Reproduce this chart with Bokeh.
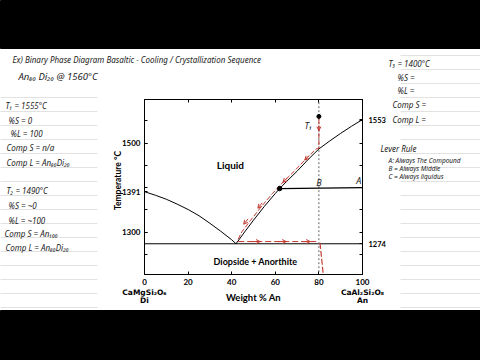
import math
from bokeh.plotting import figure
from bokeh.models import Range1d, LinearAxis, FixedTicker, Label, Arrow, OpenHead
from bokeh.core.properties import value
from bokeh.embed import file_html
from bokeh.resources import INLINE

# ---------------- data ----------------
left_liq_x = [0, 5, 10, 15, 20, 25, 30, 35, 40, 42]
left_liq_T = [1391, 1383, 1374, 1363, 1351, 1337, 1320, 1302, 1283, 1274]
right_liq_x = [42, 46, 50, 55, 60, 62, 65, 70, 75, 80, 85, 90, 95, 100]
right_liq_T = [1274, 1301, 1327, 1358, 1387, 1398, 1413, 1437, 1463, 1487, 1505, 1522, 1538, 1553]
eutectic_x = [0, 100]
eutectic_T = [1274, 1274]

x_ticks = [0, 20, 40, 60, 80, 100]
left_T_ticks = [1300, 1391, 1500]
right_T_ticks = [1274, 1553]
minor_T_ticks = [1250, 1300, 1350, 1400, 1450, 1500, 1550]

region_names = ["Liquid", "Diopside + Anorthite"]
region_x = [39.4, 50.9]
region_T = [1450, 1235]
region_size = ["10px", "9px"]

end_members = ["CaMgSi\u2082O\u2086", "Di", "CaAl\u2082Si\u2082O\u2088", "An"]
end_member_x = [0, 0, 100, 100]

x_title = "Weight % An"
y_title = "Temperature \u00b0C"

# hand-drawn cooling path
isopleth_x = [80, 80]
isopleth_T = [1610, 1205]
start_x = [80]
start_T = [1560]
tie_x = [62, 100]
tie_T = [1398, 1400]
red_liq_x = [80, 80, 78.7, 73.7, 68.7, 63.7, 58.7, 53.7, 48.7, 44.7, 42.5]
red_liq_T = [1554, 1488, 1487, 1463, 1437, 1413, 1387, 1358, 1327, 1301, 1280]
red_eut_x = [43, 79]
red_eut_T = [1279, 1279]
red_down_x = [80.5, 82]
red_down_T = [1276, 1205]
arrow_x0 = [80, 75.5, 65.5, 54.0, 47.5, 49, 61, 72]
arrow_T0 = [1540, 1472, 1422, 1366, 1330, 1279, 1279, 1279]
arrow_x1 = [80, 73.5, 63.5, 52.0, 45.5, 53, 65, 76]
arrow_T1 = [1528, 1462, 1412, 1354, 1318, 1279, 1279, 1279]
mark_text = ["T\u2081", "A", "B"]
mark_x = [75.2, 98.3, 80]
mark_T = [1540, 1416, 1412]

# handwritten notes
title_notes = ["Ex) Binary Phase Diagram Basaltic  -  Cooling / Crystallization Sequence",
               "An\u2088\u2080 Di\u2082\u2080 @ 1560\u00b0C"]
left_notes = ["T\u2081 = 1555\u00b0C", "%S = 0", "%L = 100", "Comp S = n/a",
              "Comp L = An\u2088\u2080Di\u2082\u2080",
              "T\u2082 = 1490\u00b0C", "%S = ~0", "%L = ~100", "Comp S = An\u2081\u2080\u2080",
              "Comp L = An\u2088\u2080Di\u2082\u2080"]
right_notes = ["T\u2083 = 1400\u00b0C", "%S =", "%L =", "Comp S =", "Comp L =", "Lever Rule"]
rule_notes = ["A: Always The Compound", "B = Always Middle", "C = Always liquidus"]

# ---------------- layout (page pixel positions) ----------------
title_x, title_y = [12], [59]
sub_x, sub_y = [18], [76]
left_x = [5, 8, 10, 6, 6, 6, 8, 8, 4, 5]
left_y = [105, 120, 133, 147, 162, 190, 205, 220, 233, 247]
right_x = [388, 397, 397, 392, 392, 380]
right_y = [63, 77, 90, 104, 119, 148]
rule_x = [388, 388, 388]
rule_y = [160, 168, 176]

RED = "#c43a31"
INK = "#222222"
HAND = "Noto Sans"
CHART = "Lato"

p = figure(width=480, height=360, output_backend="svg", toolbar_location=None,
           x_range=Range1d(0, 100), y_range=Range1d(1205, 1598),
           x_axis_location=None, y_axis_location=None,
           min_border_left=144, min_border_right=118, min_border_top=99, min_border_bottom=86)
p.grid.visible = False
p.outline_line_color = "black"
p.outline_line_width = 1
p.background_fill_color = "white"
p.border_fill_color = "white"

# pixel-space ranges for the notebook page around the chart
p.extra_x_ranges = {"px": Range1d(144, 362)}
p.extra_y_ranges = {"py": Range1d(274, 99)}

# notebook ruled lines and black letterbox
rule_ys_left = list(range(97, 310, 14))
rule_ys_right = list(range(55, 310, 14))
xs = [[0, 97]] * len(rule_ys_left) + [[400, 480]] * len(rule_ys_right)
ys = [[y, y] for y in rule_ys_left] + [[y, y] for y in rule_ys_right]
p.multi_line(xs, ys, line_color="#e2e2e2", line_width=1,
             x_range_name="px", y_range_name="py", level="annotation")
p.quad(left=[0, 0], right=[480, 480], top=[0, 310], bottom=[48, 360], color="black",
       x_range_name="px", y_range_name="py", level="overlay")

# axes
def style(ax, size="8px"):
    ax.major_label_text_font = CHART
    ax.major_label_text_font_style = "bold"
    ax.major_label_text_font_size = size
    ax.major_label_text_color = "black"
    ax.axis_line_color = "black"
    ax.major_tick_line_color = "black"
    ax.minor_tick_line_color = "black"
    ax.major_tick_in = 3
    ax.major_tick_out = 0
    ax.minor_tick_in = 3
    ax.minor_tick_out = 0
    ax.axis_label_text_font = CHART
    ax.axis_label_text_font_style = "bold"
    ax.axis_label_text_color = "black"

xb = LinearAxis(ticker=FixedTicker(ticks=x_ticks), axis_label=x_title)
style(xb)
xb.major_label_standoff = 4
xb.axis_label_standoff = 4
xb.axis_label_text_font_size = "9.5px"
p.add_layout(xb, "below")

xt = LinearAxis(ticker=FixedTicker(ticks=x_ticks))
style(xt)
xt.major_label_text_alpha = 0
xt.major_label_text_font_size = "1px"
p.add_layout(xt, "above")

yl = LinearAxis(ticker=FixedTicker(ticks=left_T_ticks, minor_ticks=minor_T_ticks))
style(yl)
yl.major_label_standoff = 4
p.add_layout(yl, "left")

yr = LinearAxis(ticker=FixedTicker(ticks=right_T_ticks, minor_ticks=minor_T_ticks))
style(yr, "7.5px")
yr.major_label_standoff = 6
p.add_layout(yr, "right")

# y-axis title (placed a little above the frame centre, as in the source figure)
p.text(x=[117], y=[180], text=[y_title], x_range_name="px", y_range_name="py",
       level="overlay", angle=math.pi / 2, text_align="center", text_baseline="middle",
       text_font=value(CHART), text_font_style="bold", text_font_size="8.5px",
       text_color="black")

# phase boundaries
p.line(left_liq_x, left_liq_T, line_color="black", line_width=1)
p.line(right_liq_x, right_liq_T, line_color="black", line_width=1)
p.line(eutectic_x, eutectic_T, line_color="black", line_width=1)

for name, x, t, s in zip(region_names, region_x, region_T, region_size):
    p.add_layout(Label(x=x, y=t, text=name, text_align="center", text_baseline="middle",
                       text_font=CHART, text_font_style="bold", text_font_size=s,
                       text_color="black"))

p.text(x=end_member_x, y=[292, 300, 292, 300], text=end_members, y_range_name="py",
       level="overlay", text_align="center", text_baseline="middle",
       text_font=value("DejaVu Sans"), text_font_style="bold", text_font_size="7.5px",
       text_color="black")

# hand-drawn overlay
p.line(isopleth_x, isopleth_T, line_color="#666666", line_width=1, line_dash="2 2")
p.line(red_liq_x, red_liq_T, line_color=RED, line_width=1, line_dash="5 2")
p.line(red_eut_x, red_eut_T, line_color=RED, line_width=1, line_dash="6 3")
p.line(red_down_x, red_down_T, line_color=RED, line_width=1.2, line_dash="6 2")
p.line(tie_x, tie_T, line_color="black", line_width=1.2)
p.scatter(start_x, start_T, size=4, color="black")
p.scatter([tie_x[0]], [tie_T[0]], size=4.5, color="black")
for x0, t0, x1, t1 in zip(arrow_x0, arrow_T0, arrow_x1, arrow_T1):
    p.add_layout(Arrow(end=OpenHead(size=4, line_color=RED, line_width=1),
                       x_start=x0, y_start=t0, x_end=x1, y_end=t1,
                       line_color=RED, line_width=1))
p.text(x=mark_x, y=mark_T, text=mark_text, text_align="center", text_baseline="middle",
       text_font=value(HAND), text_font_style="italic", text_font_size="9px", text_color=INK)

# handwritten notes
def notes(xs_, ys_, texts, size):
    p.text(x=xs_, y=ys_, text=texts, x_range_name="px", y_range_name="py", level="overlay",
           text_align="left", text_baseline="middle", text_font=value(HAND),
           text_font_style="italic", text_font_size=size, text_color=INK)

notes(title_x, title_y, title_notes[:1], "8px")
notes(sub_x, sub_y, title_notes[1:], "9.5px")
notes(left_x, left_y, left_notes, "8px")
notes(right_x, right_y, right_notes, "8px")
notes(rule_x, rule_y, rule_notes, "6.5px")

open("out.html", "w").write(file_html(p, INLINE))
